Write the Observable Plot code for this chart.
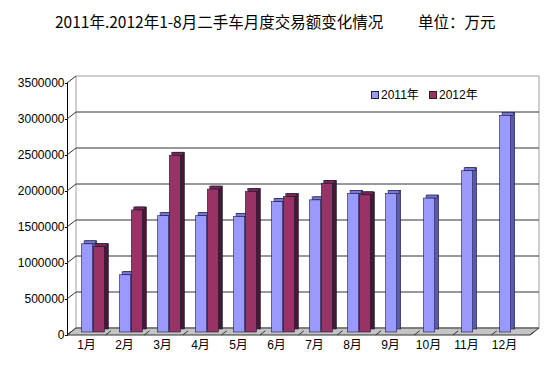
<!DOCTYPE html>
<html>
<head>
<meta charset="utf-8">
<script src="https://cdn.jsdelivr.net/npm/d3@7"></script>
<script src="https://cdn.jsdelivr.net/npm/@observablehq/plot@0.6"></script>
<style>
  body { margin: 0; background: #fff; }
  #wrap { position: relative; width: 552px; height: 365px; overflow: hidden; background: #fff;
          font-family: "Liberation Sans", "Noto Sans CJK SC", sans-serif; }
  #title { position: relative; height: 40px; font-family: "Noto Sans CJK SC", sans-serif; font-size: 15.5px; color: #000; }
  #title span { position: absolute; top: 11px; line-height: 20px; white-space: nowrap; }
  #legend { position: absolute; left: 0; top: 0; font-size: 12px; color: #000; }
  #legend .sw { position: absolute; width: 6px; height: 6px; border: 1px solid #222; }
  #legend .lt { position: absolute; line-height: 14px; white-space: nowrap; }
</style>
</head>
<body>
<div id="wrap">
  <div id="title"></div>
  <div id="chart"></div>
  <div id="legend"></div>
</div>
<script>
// ---- data ----
const titleText = "2011年.2012年1-8月二手车月度交易额变化情况";
const unitText = "单位：万元";
const months = ["1月","2月","3月","4月","5月","6月","7月","8月","9月","10月","11月","12月"];
const seriesNames = ["2011年", "2012年"];
const values2011 = [1225000, 795000, 1615000, 1615000, 1605000, 1810000, 1835000, 1925000, 1925000, 1860000, 2240000, 3010000];
const values2012 = [1185000, 1695000, 2455000, 1985000, 1950000, 1880000, 2065000, 1905000];
const yTicks = [0, 500000, 1000000, 1500000, 2000000, 2500000, 3000000, 3500000];

// ---- styles ----
const frontColors = ["#9999ff", "#993366"];
const sideColors  = ["#5a5aa8", "#4a1631"];
const topColors   = ["#7878d8", "#7a2650"];
const edgeColor = "#1c1c3a";

// ---- title ----
const title = document.getElementById("title");
title.innerHTML = `<span style="left:55px">${titleText}</span><span style="left:418px">${unitText}</span>`;

// ---- legend ----
const legend = document.getElementById("legend");
const legendPos = [[371, 381], [429, 439]];
legend.innerHTML = seriesNames.map((s, i) =>
  `<div class="sw" style="left:${legendPos[i][0]}px;top:91px;background:${frontColors[i]}"></div>` +
  `<div class="lt" style="left:${legendPos[i][1]}px;top:88px">${s}</div>`).join("");

// ---- chart ----
const W = 552, H = 325;
const mL = 67, mR = 22, mT = 43, mB = 30;
const data2011 = months.map((m, i) => ({month: m, value: values2011[i]}));
const data2012 = values2012.map((v, i) => ({month: months[i], value: v}));

const step = (W - mL - mR) / months.length;
const bw = 11.7;                  // bar face width
const inner = step / 2, outer = step / 2 - bw;
const D = 4, Dv = 3;              // bar depth
const fdx = 3, fdy = -3;          // bar placement inside floor depth
const WX = 9, WY = -7;            // wall depth

function walls(index, scales, values, dims) {
  const y = scales.y;
  const x0 = dims.marginLeft, x1 = dims.width - dims.marginRight;
  const yb = y(0), yt = y(yTicks[yTicks.length - 1]);
  const g = d3.create("svg:g").attr("fill", "none");
  // back wall
  g.append("rect").attr("x", x0 + WX).attr("y", yt + WY).attr("width", x1 - x0).attr("height", yb - yt)
    .attr("fill", "#fff").attr("stroke", "#a0a0a0");
  // gridlines on back wall
  for (const t of yTicks.slice(1, -1)) {
    g.append("line").attr("x1", x0 + WX).attr("x2", x1 + WX).attr("y1", y(t) + WY).attr("y2", y(t) + WY)
      .attr("stroke", "#333").attr("stroke-width", 1);
  }
  // left wall diagonals
  for (const t of yTicks) {
    g.append("line").attr("x1", x0).attr("x2", x0 + WX).attr("y1", y(t)).attr("y2", y(t) + WY)
      .attr("stroke", "#333");
  }
  // floor
  g.append("path").attr("d", `M${x0},${yb}L${x1},${yb}L${x1 + WX},${yb + WY}L${x0 + WX},${yb + WY}Z`)
    .attr("fill", "#c4c4c4").attr("stroke", "#333");
  // separators on floor
  for (let i = 0; i <= months.length; i++) {
    const xx = x0 + i * (x1 - x0) / months.length;
    g.append("line").attr("x1", xx).attr("x2", xx + WX * 0.6).attr("y1", yb).attr("y2", yb + WY * 0.6)
      .attr("stroke", "#333");
  }
  return g.node();
}

function bars3d(data, k) {
  const il = k === 0 ? outer : inner, ir = k === 0 ? inner : outer;
  const common = {x: "month", insetLeft: il, insetRight: ir, stroke: edgeColor, strokeWidth: 0.6};
  return [
    Plot.barY(data, {...common, y: "value", fill: sideColors[k], dx: fdx + D, dy: fdy - Dv}),
    Plot.barY(data, {...common, y1: "value", y2: "value", insetTop: -Dv, fill: topColors[k], dx: fdx + D / 2 + 0.5, dy: fdy}),
    Plot.barY(data, {...common, y: "value", fill: frontColors[k], dx: fdx, dy: fdy})
  ];
}

const chart = Plot.plot({
  width: W, height: H,
  marginLeft: mL, marginRight: mR, marginTop: mT, marginBottom: mB,
  style: {fontSize: "12px", fontFamily: "'Liberation Sans','Noto Sans CJK SC',sans-serif", color: "#000", background: "#fff", overflow: "visible"},
  x: {domain: months, padding: 0, tickSize: 0, tickPadding: 5, label: null},
  y: {domain: [0, 3500000], ticks: yTicks, tickFormat: d => d3.format("d")(d), tickSize: 2, tickPadding: 1, line: true, label: null},
  marks: [
    walls,
    ...bars3d(data2011, 0),
    ...bars3d(data2012, 1)
  ]
});
// month labels sit at the front edge of the floor, a little to the left of the bars
chart.querySelectorAll('g[aria-label^="x-axis"] text').forEach(t => t.setAttribute("dx", "-4"));
document.getElementById("chart").appendChild(chart);
</script>
</body>
</html>
